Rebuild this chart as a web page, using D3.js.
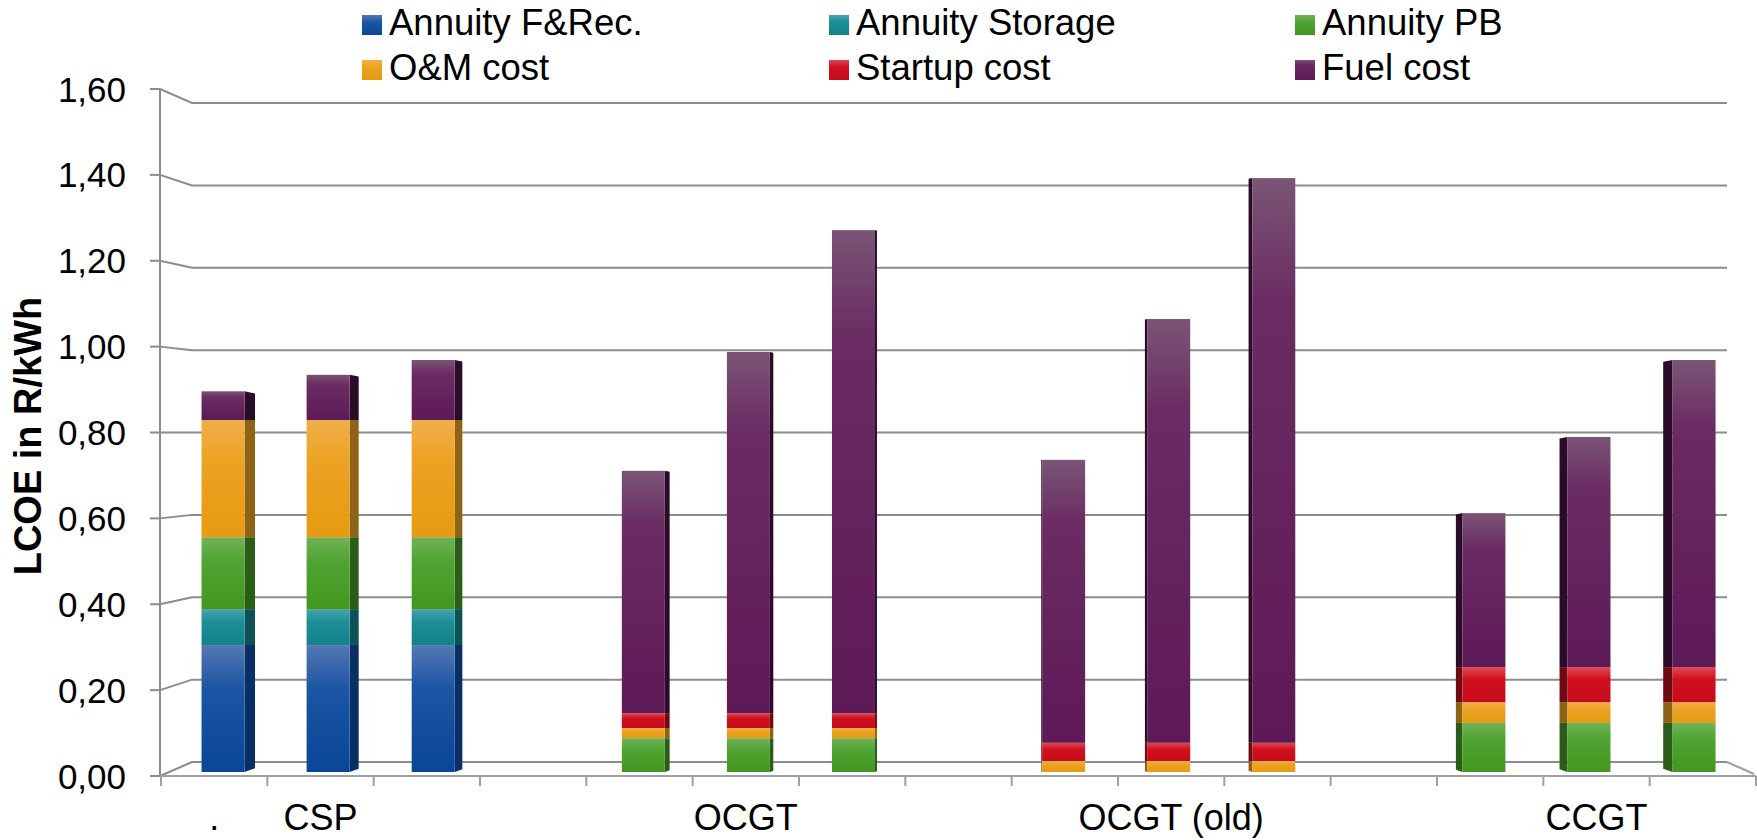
<!DOCTYPE html>
<html>
<head>
<meta charset="utf-8">
<script src="https://cdn.jsdelivr.net/npm/d3@7"></script>
<style>
  html, body { margin: 0; padding: 0; background: #fff; }
  svg { display: block; font-family: "Liberation Sans", Arial, sans-serif; }
</style>
</head>
<body>
<div id="chart"></div>
<script>
// category slots along the x axis (3 bars per technology, one empty slot between groups)
const slotLabels = [".", "CSP", "", "", "", "OCGT", "", "", "", "OCGT (old)", "", "", "", "CCGT", ""];

const seriesNames = ["Annuity F&Rec.", "Annuity Storage", "Annuity PB", "O&M cost", "Startup cost", "Fuel cost"];

const annuityFRec    = [0.300, 0.300, 0.300, 0, 0,     0,     0,     0, 0,     0,     0,     0, 0,     0,     0];
const annuityStorage = [0.085, 0.085, 0.085, 0, 0,     0,     0,     0, 0,     0,     0,     0, 0,     0,     0];
const annuityPB      = [0.170, 0.170, 0.170, 0, 0.080, 0.080, 0.080, 0, 0,     0,     0,     0, 0.116, 0.116, 0.116];
const omCost         = [0.277, 0.277, 0.277, 0, 0.024, 0.024, 0.024, 0, 0.026, 0.026, 0.026, 0, 0.049, 0.049, 0.049];
const startupCost    = [0,     0,     0,     0, 0.035, 0.035, 0.035, 0, 0.043, 0.043, 0.043, 0, 0.083, 0.083, 0.083];
const fuelCost       = [0.068, 0.107, 0.142, 0, 0.573, 0.854, 1.142, 0, 0.669, 1.002, 1.335, 0, 0.364, 0.544, 0.726];

const yTicks = [0, 0.2, 0.4, 0.6, 0.8, 1.0, 1.2, 1.4, 1.6];

// colours: [light top, base, dark bottom, side face]
const palette = [
    ["#5478b3", "#1b55a3", "#0a4699", "#0a2f66"],
    ["#4aa3aa", "#1b8f97", "#12818a", "#0c5257"],
    ["#72b258", "#4fa332", "#43971f", "#2a5e18"],
    ["#f0b04a", "#eca223", "#e69b12", "#8e6414"],
    ["#dc4a52", "#d1101f", "#c40c1a", "#6e0a12"],
    ["#7a5576", "#6a2c62", "#5e1957", "#2a0c28"]
];

const W = 1757, H = 840;
const svg = d3.select("#chart").append("svg")
    .attr("width", W)
    .attr("height", H);

const defs = svg.append("defs");
palette.forEach((c, i) => {
    const g = defs.append("linearGradient")
        .attr("id", "grad" + i)
        .attr("x1", 0).attr("y1", 0).attr("x2", 0).attr("y2", 1);
    g.append("stop").attr("offset", "0%").attr("stop-color", c[0]);
    g.append("stop").attr("offset", i === 5 ? "22%" : "35%").attr("stop-color", c[1]);
    g.append("stop").attr("offset", "100%").attr("stop-color", c[2]);
});

const slots = d3.range(slotLabels.length);

// 3D-ish perspective: front axis plane, back wall plane and the bar plane in between
const xFront = d3.scaleBand().domain(slots).range([161, 1756]);
const xMid = d3.scaleBand().domain(slots).range([170.5, 1746.6]);
const yFront = d3.scaleLinear().domain([0, 1.6]).range([776, 89]);
const yBack = d3.scaleLinear().domain([0, 1.6]).range([762, 103]);
const yBar = d3.scaleLinear().domain([0, 1.6]).range([772, 95.2]);

const backLeft = 192, backRight = 1727, axisX = 160;
const gridColor = "#8c8c8c";

// gridlines with slanted connector to the front axis
const grid = svg.append("g");
yTicks.forEach(v => {
    grid.append("path")
        .attr("d", `M${axisX},${yFront(v)}L${backLeft},${yBack(v)}L${backRight},${yBack(v)}`)
        .attr("fill", "none")
        .attr("stroke", gridColor)
        .attr("stroke-width", 2);
    grid.append("line")
        .attr("x1", axisX - 10).attr("x2", axisX)
        .attr("y1", yFront(v)).attr("y2", yFront(v))
        .attr("stroke", gridColor).attr("stroke-width", 2);
});

// floor: right slanted edge and front axis
grid.append("line")
    .attr("x1", backRight).attr("y1", yBack(0))
    .attr("x2", 1754).attr("y2", 774)
    .attr("stroke", "#a0a0a0").attr("stroke-width", 2);
grid.append("line")
    .attr("x1", axisX).attr("y1", yFront(0))
    .attr("x2", 1756).attr("y2", yFront(0))
    .attr("stroke", "#a0a0a0").attr("stroke-width", 2);
grid.append("line")
    .attr("x1", axisX).attr("y1", yFront(1.6))
    .attr("x2", axisX).attr("y2", yFront(0))
    .attr("stroke", gridColor).attr("stroke-width", 2);

// category ticks
d3.range(slots.length + 1).forEach(i => {
    const x = 161 + xFront.step() * i;
    grid.append("line")
        .attr("x1", x).attr("x2", x)
        .attr("y1", yFront(0)).attr("y2", yFront(0) + 10)
        .attr("stroke", "#a0a0a0").attr("stroke-width", 2);
});

// y tick labels
svg.append("g").selectAll("text")
    .data(yTicks)
    .join("text")
    .attr("x", 126)
    .attr("y", d => yFront(d))
    .attr("dy", "0.36em")
    .attr("text-anchor", "end")
    .attr("font-size", "35px")
    .attr("fill", "#000")
    .text(d => d3.format(".2f")(d).replace(".", ","));

// y axis title
svg.append("text")
    .attr("transform", "translate(41,436) rotate(-90)")
    .attr("text-anchor", "middle")
    .attr("font-size", "38px")
    .attr("font-weight", "bold")
    .text("LCOE in R/kWh");

// category labels
svg.append("g").selectAll("text")
    .data(slots.filter(i => slotLabels[i] !== ""))
    .join("text")
    .attr("x", i => xFront(i) + xFront.bandwidth() / 2)
    .attr("y", 830)
    .attr("text-anchor", "middle")
    .attr("font-size", "36px")
    .text(i => slotLabels[i]);

// stacked bars
const table = slots.map(i => ({
    slot: i,
    s0: annuityFRec[i], s1: annuityStorage[i], s2: annuityPB[i],
    s3: omCost[i], s4: startupCost[i], s5: fuelCost[i]
}));
const stack = d3.stack().keys(["s0", "s1", "s2", "s3", "s4", "s5"])(table);

const barW = 43;
const vanishX = 1000;
const bars = svg.append("g");

stack.forEach((layer, si) => {
    const g = bars.append("g");
    layer.forEach(d => {
        if (d[1] - d[0] <= 0) return;
        const i = d.data.slot;
        const cx = xMid(i) + xMid.bandwidth() / 2;
        const x0 = cx - barW / 2, x1 = cx + barW / 2;
        const yt = yBar(d[1]), yb = yBar(d[0]);
        const s = (vanishX - cx) * 0.0135;
        const isTop = si === 5 || d[1] === d3.max(stack, l => l[i][1]);
        const isBottom = d[0] === 0;
        // side face
        const edge = s >= 0 ? x1 : x0;
        const outer = edge + s;
        const topDrop = isTop ? Math.abs(s) * 0.2 : 0;
        const botRise = isBottom ? Math.abs(s) * 0.35 : 0;
        g.append("path")
            .attr("d", `M${edge},${yt}L${outer},${yt + topDrop}L${outer},${yb - botRise}L${edge},${yb}Z`)
            .attr("fill", palette[si][3]);
        // front face
        g.append("rect")
            .attr("x", x0)
            .attr("y", yt)
            .attr("width", barW)
            .attr("height", yb - yt)
            .attr("fill", `url(#grad${si})`);
    });
});

// legend
const legendCols = [362, 829, 1295];
const legendRows = [35, 80];
const legend = svg.append("g");
seriesNames.forEach((name, i) => {
    const col = i % 3, row = Math.floor(i / 3);
    const x = legendCols[col], y = legendRows[row];
    legend.append("rect")
        .attr("x", x).attr("y", y - 20)
        .attr("width", 20).attr("height", 20)
        .attr("fill", `url(#grad${i})`);
    legend.append("text")
        .attr("x", x + 27).attr("y", y)
        .attr("font-size", "36.5px")
        .text(name);
});
</script>
</body>
</html>
